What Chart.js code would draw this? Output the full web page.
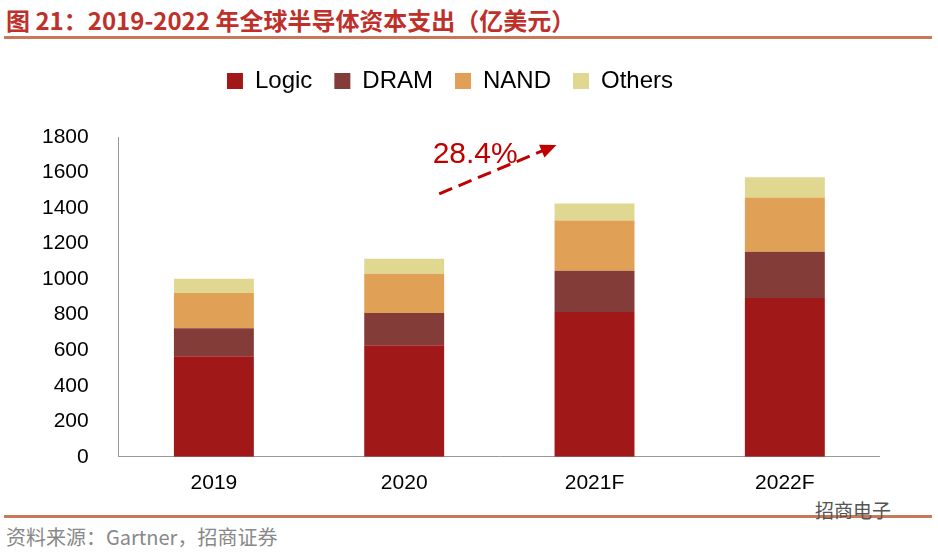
<!DOCTYPE html>
<html><head><meta charset="utf-8">
<script src="https://cdn.jsdelivr.net/npm/chart.js@4"></script>
<style>
body{margin:0;width:938px;height:552px;background:#fff;font-family:"Liberation Sans","Noto Sans CJK SC",sans-serif;position:relative;overflow:hidden}
#title{position:absolute;left:6px;top:2px;font-size:24px;font-weight:bold;color:#c0302a;font-family:"Noto Sans CJK SC","Liberation Sans",sans-serif}
.rule{position:absolute;left:4px;width:928px;height:3px;background:#c8775a}
#src{position:absolute;left:6px;top:522px;font-size:20px;color:#888;font-family:"Noto Sans CJK SC","Liberation Sans",sans-serif}
#wm{position:absolute;left:815px;top:496px;font-size:19px;color:#555;font-family:"Noto Sans CJK SC",sans-serif}
#box{position:absolute;left:20px;top:47px;width:860px;height:463px}
</style></head><body>
<div id="title">图 21：2019-2022 年全球半导体资本支出（亿美元）</div>
<div class="rule" style="top:36px"></div>
<div class="rule" style="top:515px"></div>
<div id="src">资料来源：Gartner，招商证券</div>
<div id="wm">招商电子</div>
<div id="box"><canvas id="c"></canvas></div>
<script>
const categories = ['2019', '2020', '2021F', '2022F'];
const logic = [566, 628, 815, 894];
const dram = [158, 181, 232, 260];
const nand = [198, 221, 283, 306];
const others = [80, 85, 96, 113];
const growthLabel = '28.4%';

const arrowPlugin = {
  id: 'arrow',
  afterDatasetsDraw(chart) {
    const {ctx, scales: {x, y}} = chart;
    const x0 = x.getPixelForValue(1) + 35;
    const y0 = y.getPixelForValue(1480);
    const x1 = x.getPixelForValue(2) - 38, y1 = y.getPixelForValue(1755);
    ctx.save();
    ctx.strokeStyle = '#c00000'; ctx.fillStyle = '#c00000';
    ctx.lineWidth = 3; ctx.setLineDash([14, 7]);
    const ang = Math.atan2(y1 - y0, x1 - x0);
    ctx.beginPath(); ctx.moveTo(x0, y0);
    ctx.lineTo(x1 - 12 * Math.cos(ang), y1 - 12 * Math.sin(ang)); ctx.stroke();
    ctx.setLineDash([]);
    ctx.beginPath(); ctx.moveTo(x1, y1);
    ctx.lineTo(x1 - 16 * Math.cos(ang) + 7 * Math.sin(ang), y1 - 16 * Math.sin(ang) - 7 * Math.cos(ang));
    ctx.lineTo(x1 - 16 * Math.cos(ang) - 7 * Math.sin(ang), y1 - 16 * Math.sin(ang) + 7 * Math.cos(ang));
    ctx.closePath(); ctx.fill();
    ctx.font = '30px "Liberation Sans"'; ctx.textAlign = 'center';
    ctx.fillText(growthLabel, x0 + 36, y.getPixelForValue(1700));
    ctx.restore();
  }
};

new Chart(document.getElementById('c'), {
  type: 'bar',
  data: {
    labels: categories,
    datasets: [
      {label: 'Logic', data: logic, backgroundColor: '#a01818'},
      {label: 'DRAM', data: dram, backgroundColor: '#843c39'},
      {label: 'NAND', data: nand, backgroundColor: '#e0a055'},
      {label: 'Others', data: others, backgroundColor: '#e0d890'}
    ]
  },
  options: {
    responsive: true, maintainAspectRatio: false, animation: false,
    datasets: {bar: {categoryPercentage: 1, barPercentage: 0.42}},
    plugins: {
      legend: {labels: {font: {size: 24, family: 'Liberation Sans'}, color: '#000', boxWidth: 16, boxHeight: 16, padding: 22}},
      tooltip: {enabled: false}
    },
    scales: {
      x: {stacked: true, grid: {display: false, drawTicks: false}, border: {color: '#999'},
          ticks: {font: {size: 21, family: 'Liberation Sans'}, color: '#000', padding: 14}},
      y: {stacked: true, min: 0, max: 1800, grid: {display: false}, border: {color: '#999'},
          ticks: {stepSize: 200, font: {size: 21, family: 'Liberation Sans'}, color: '#000', padding: 22,
                  callback: v => String(v)}}
    }
  },
  plugins: [arrowPlugin, {id: 'legendGap', beforeInit(chart) {
    const fit = chart.legend.fit;
    chart.legend.fit = function () { fit.bind(chart.legend)(); this.height += 34; };
  }}]
});
</script>
</body></html>
